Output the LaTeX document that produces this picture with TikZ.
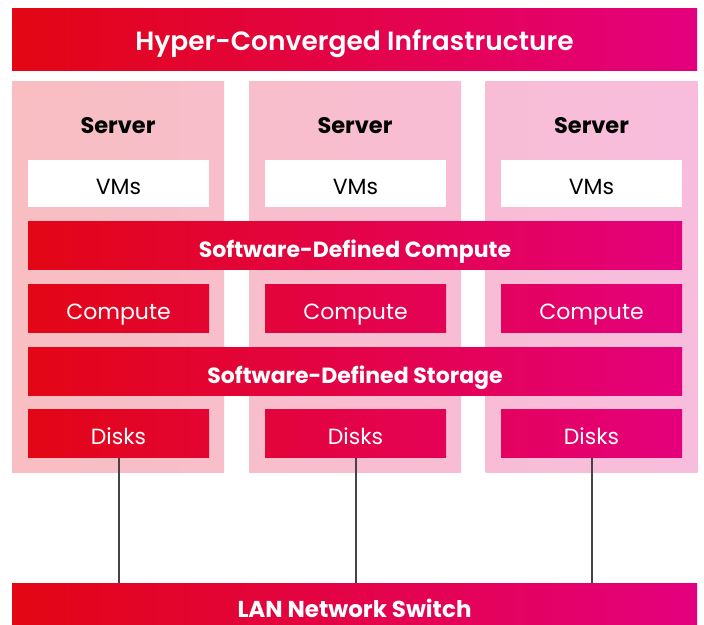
\documentclass[tikz,border=0pt]{standalone}
\usepackage{fontspec}
\setmainfont{Poppins}
\newfontfamily\hcimedium{Poppins SemiBold}
\usepackage{tikz}
\usetikzlibrary{positioning}
% brand gradient, left to right
\definecolor{hcL}{RGB}{227,6,19}
\definecolor{hcR}{RGB}{228,0,126}
\colorlet{hcA}{hcR!2!hcL}
\colorlet{hcB}{hcR!29!hcL}
\colorlet{hcC}{hcR!37!hcL}
\colorlet{hcD}{hcR!63!hcL}
\colorlet{hcE}{hcR!71!hcL}
\colorlet{hcF}{hcR!98!hcL}
\colorlet{hcG}{hcR!31!hcL}
\colorlet{hcH}{hcR!35!hcL}
\colorlet{hcI}{hcR!66!hcL}
\colorlet{hcJ}{hcR!69!hcL}
\definecolor{hcwire}{RGB}{68,68,68}
\tikzset{
  hci-banner/.style={left color=hcL, right color=hcR, text=white, minimum width=685pt, minimum height=62pt,
    font=\hcimedium\fontsize{26.5}{32}\selectfont, text height=22pt, text depth=0pt, inner sep=0pt},
  hci-column/.style 2 args={left color=#1!26!white, right color=#2!26!white, minimum width=212pt, minimum height=391pt, inner sep=0pt},
  hci-bar/.style={left color=hcA, right color=hcF, text=white, minimum width=654pt, minimum height=48pt,
    font=\bfseries\fontsize{22}{26}\selectfont, text height=24pt, text depth=0pt, inner sep=0pt},
  hci-box/.style 2 args={left color=#1, right color=#2, text=white, minimum width=181pt, minimum height=48pt,
    font=\fontsize{22}{26}\selectfont, text height=21.5pt, text depth=0pt, inner sep=0pt},
  hci-vms/.style={fill=white, minimum width=181pt, minimum height=47pt, font=\fontsize{22}{26}\selectfont,
    text height=21.5pt, text depth=0pt, inner sep=0pt},
  hci-title/.style={font=\bfseries\fontsize{22.5}{27}\selectfont},
  hci-wire/.style={draw=hcwire, line width=2pt}
}
\begin{document}
\begin{tikzpicture}[x=1pt, y=1pt]
  \useasboundingbox (0,0) rectangle (704,624);
  % top banner
  \node[hci-banner] (hci) at (354.5,584.5) {Hyper-Converged Infrastructure};

  % server columns
  \node[hci-column={hcL}{hcG}] (col1) at (118,346.5) {};
  \node[hci-column={hcH}{hcI}] (col2) at (355,346.5) {};
  \node[hci-column={hcJ}{hcR}] (col3) at (591.5,346.5) {};
  \node[hci-title] (srv1) at (118,498) {Server};
  \node[hci-title] (srv2) at (355,498) {Server};
  \node[hci-title] (srv3) at (591.5,498) {Server};

  % virtual machines
  \node[hci-vms] (vm1) at (118.5,440.5) {VMs};
  \node[hci-vms] (vm2) at (355.5,440.5) {VMs};
  \node[hci-vms] (vm3) at (591.5,440.5) {VMs};

  % compute layer
  \node[hci-bar] (sdc) at (355,378) {Software-Defined Compute};
  \node[hci-box={hcA}{hcB}] (cp1) at (118.5,315) {Compute};
  \node[hci-box={hcC}{hcD}] (cp2) at (355.5,315) {Compute};
  \node[hci-box={hcE}{hcF}] (cp3) at (591.5,315) {Compute};

  % storage layer
  \node[hci-bar] (sds) at (355,252) {Software-Defined Storage};
  \node[hci-box={hcA}{hcB}] (dk1) at (118.5,190) {Disks};
  \node[hci-box={hcC}{hcD}] (dk2) at (355.5,190) {Disks};
  \node[hci-box={hcE}{hcF}] (dk3) at (591.5,190) {Disks};

  % network switch, runs off the bottom edge
  \node[hci-banner, minimum height=41pt, text height=28pt, font=\bfseries\fontsize{23}{27}\selectfont] (lan) at (354.5,20.5) {LAN Network Switch};

  % uplinks
  \draw[hci-wire] (dk1.south) -- (dk1.south |- lan.north);
  \draw[hci-wire] (dk2.south) -- (dk2.south |- lan.north);
  \draw[hci-wire] (dk3.south) -- (dk3.south |- lan.north);
\end{tikzpicture}
\end{document}
